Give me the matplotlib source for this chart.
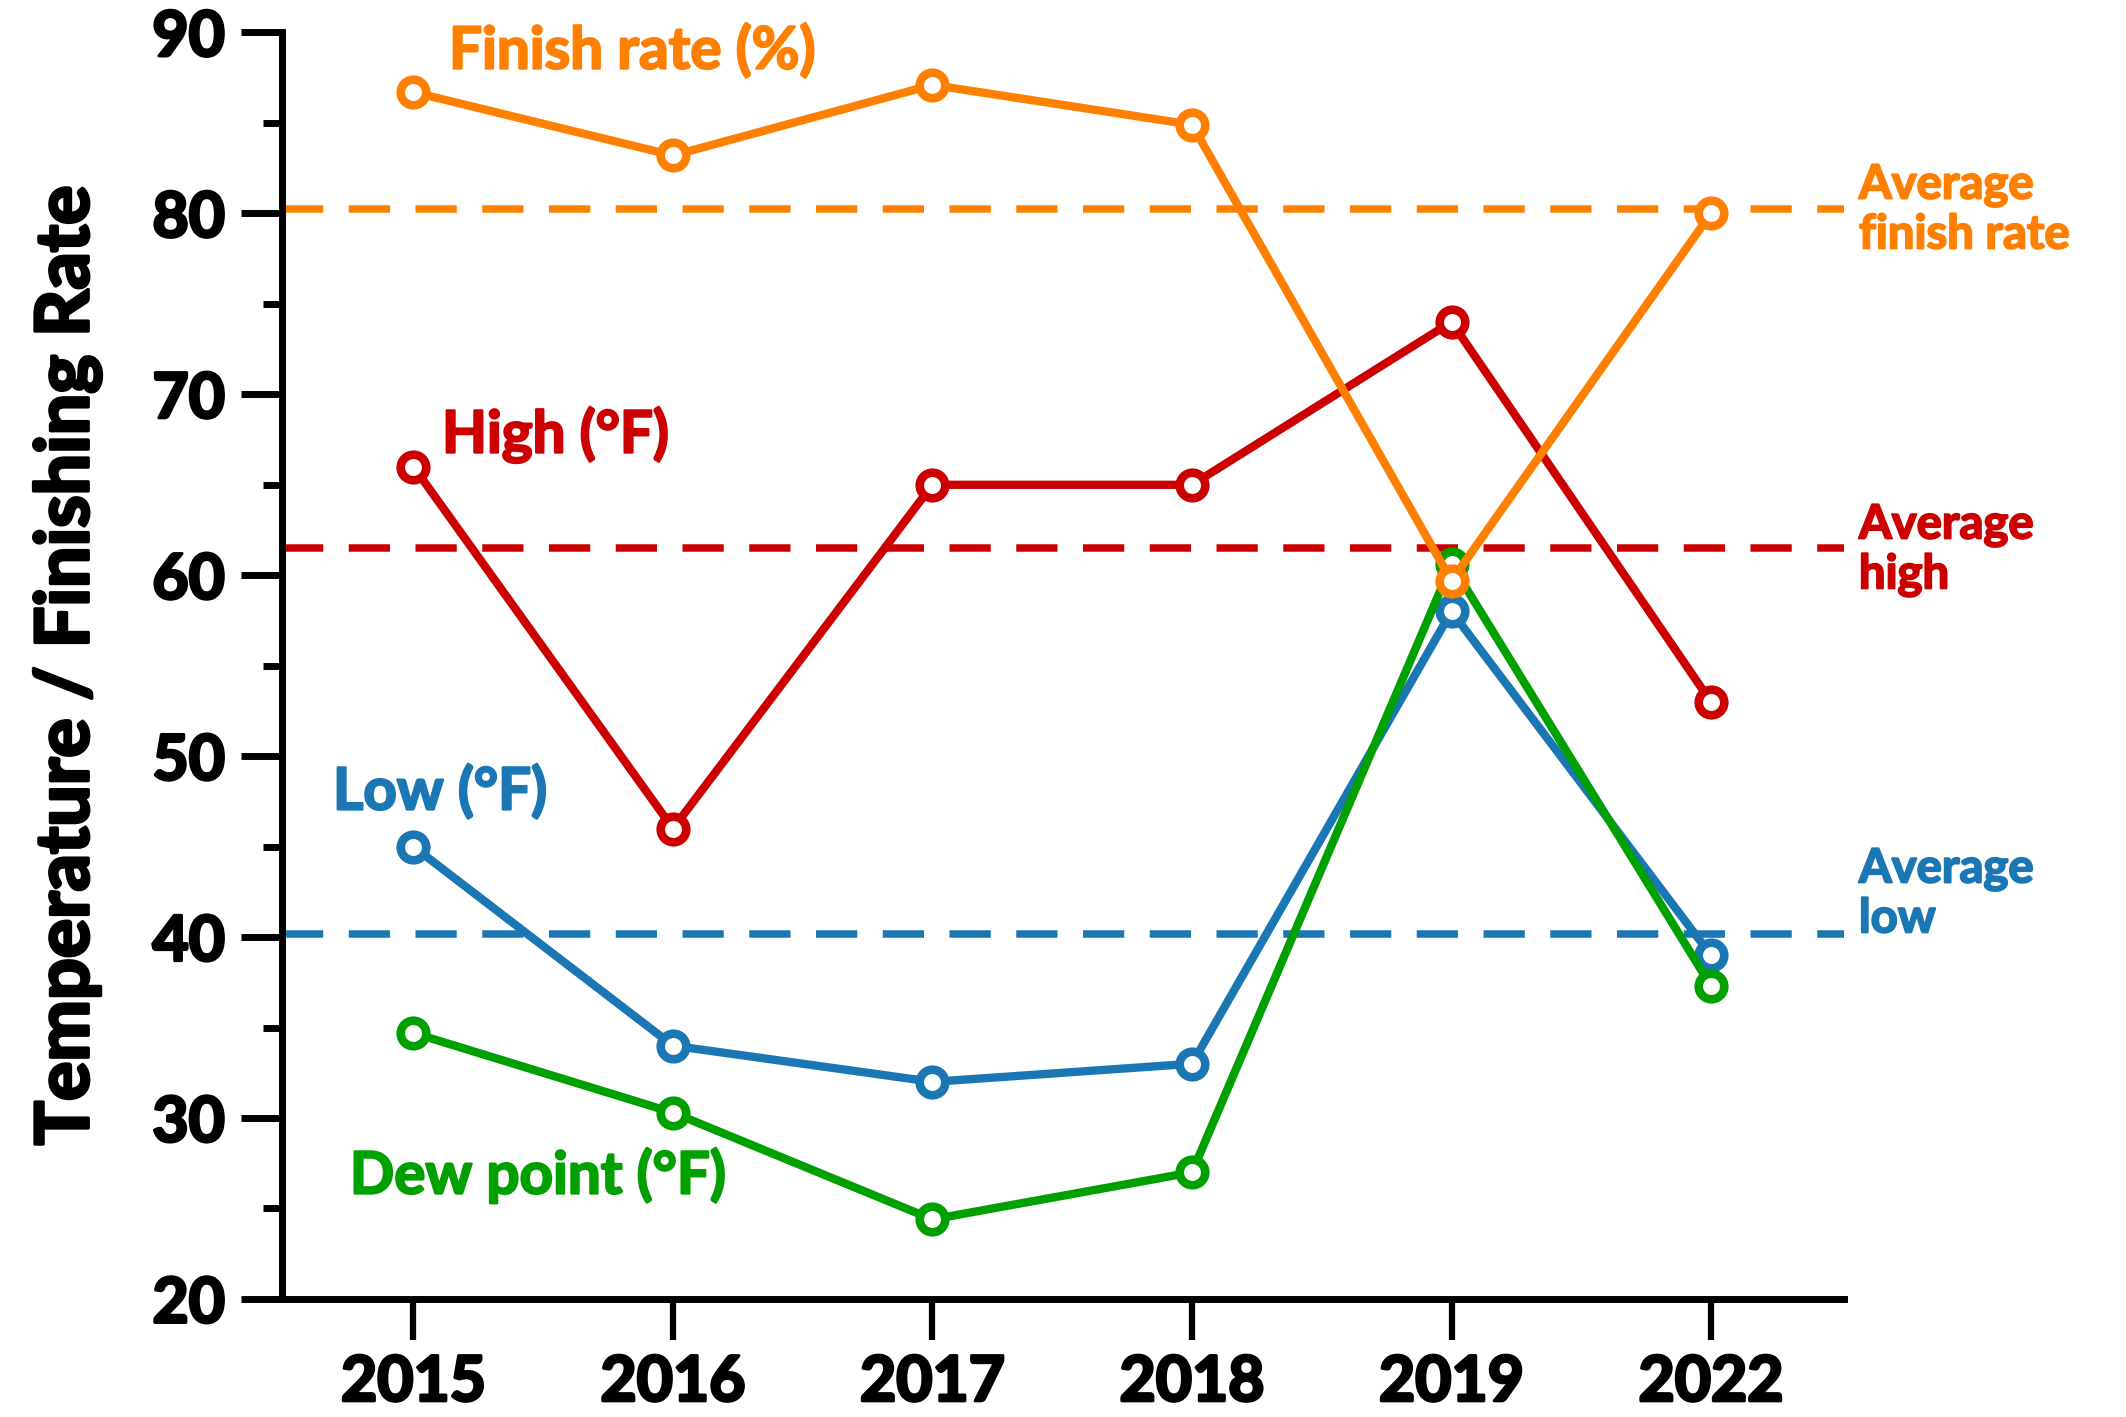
import matplotlib
matplotlib.use('Agg')
import matplotlib.pyplot as plt
import matplotlib.patheffects as pe
from matplotlib.ticker import MultipleLocator

# Race data
years = ['2015', '2016', '2017', '2018', '2019', '2022']
finish_rate = [86.7, 83.2, 87.1, 84.9, 59.7, 80.0]
high_f = [66, 46, 65, 65, 74, 53]
low_f = [45, 34, 32, 33, 58, 39]
dew_point_f = [34.7, 30.3, 24.4, 27.0, 60.6, 37.3]

c_finish = '#ff8000'
c_high = '#cc0000'
c_low = '#1a77b4'
c_dew = '#00a000'

plt.rcParams['font.family'] = ['Lato', 'DejaVu Sans']

# fake a heavier weight than Lato Bold with a thin outline in the same colour
def thick(col, w):
  return [pe.withStroke(linewidth=w, foreground=col)]

fig = plt.figure(figsize=(21.26, 14.17), dpi=100)
ax = fig.add_axes([0.1326, 0.0833, 0.8673 - 0.1326, 0.9771 - 0.0833])

x = list(range(len(years)))

# averages as dashed lines
avg = lambda v: sum(v) / len(v)
for vals, col in [(finish_rate, c_finish), (high_f, c_high), (low_f, c_low)]:
  ax.axhline(avg(vals), color=col, lw=5.4, dashes=(5.5, 3.4), zorder=1)

mk = dict(marker='o', ms=18.4, mew=6.2, mfc='white', lw=6)
ax.plot(x, high_f, color=c_high, zorder=3, **mk)
ax.plot(x, low_f, color=c_low, zorder=4, **mk)
ax.plot(x, dew_point_f, color=c_dew, zorder=5, **mk)
ax.plot(x, finish_rate, color=c_finish, zorder=6, **mk)

# series labels
lab = dict(fontsize=42, fontweight='bold', va='center', ha='left')
for xt, yt, s, col in [(0.137, 88.95, 'Finish rate (%)', c_finish),
                       (0.11, 67.74, 'High (°F)', c_high),
                       (-0.31, 48.0, 'Low (°F)', c_low),
                       (-0.245, 26.8, 'Dew point (°F)', c_dew)]:
  ax.text(xt, yt, s, color=col, path_effects=thick(col, 1.6), **lab)

alab = dict(fontsize=34, fontweight='bold', va='center', ha='left',
            linespacing=1.15, clip_on=False)
for yt, s, col in [(80.2, 'Average\nfinish rate', c_finish),
                   (61.4, 'Average\nhigh', c_high),
                   (42.4, 'Average\nlow', c_low)]:
  ax.text(5.57, yt, s, color=col, path_effects=thick(col, 1.4), **alab)

# axes styling
ax.set_xlim(-0.507, 5.512)
ax.set_ylim(20, 90)
ax.set_xticks(x)
ax.set_xticklabels(years)
ax.yaxis.set_major_locator(MultipleLocator(10))
ax.yaxis.set_minor_locator(MultipleLocator(5))
for s in ['top', 'right']:
  ax.spines[s].set_visible(False)
for s in ['left', 'bottom']:
  ax.spines[s].set_linewidth(5)
ax.tick_params(axis='y', which='major', length=29.5, width=5, pad=11.5, labelsize=45)
ax.tick_params(axis='y', which='minor', length=13.7, width=5)
ax.tick_params(axis='x', which='major', length=29.5, width=4.5, pad=10, labelsize=45)
for t in ax.get_xticklabels() + ax.get_yticklabels():
  t.set_fontweight('bold')
  t.set_path_effects(thick('black', 2.2))

ax.set_ylabel('Temperature / Finishing Rate', fontsize=53, fontweight='bold',
              va='baseline', path_effects=thick('black', 2.4))
ax.yaxis.set_label_coords(-0.124, 0.5)

fig.savefig('out.png', dpi=100)
